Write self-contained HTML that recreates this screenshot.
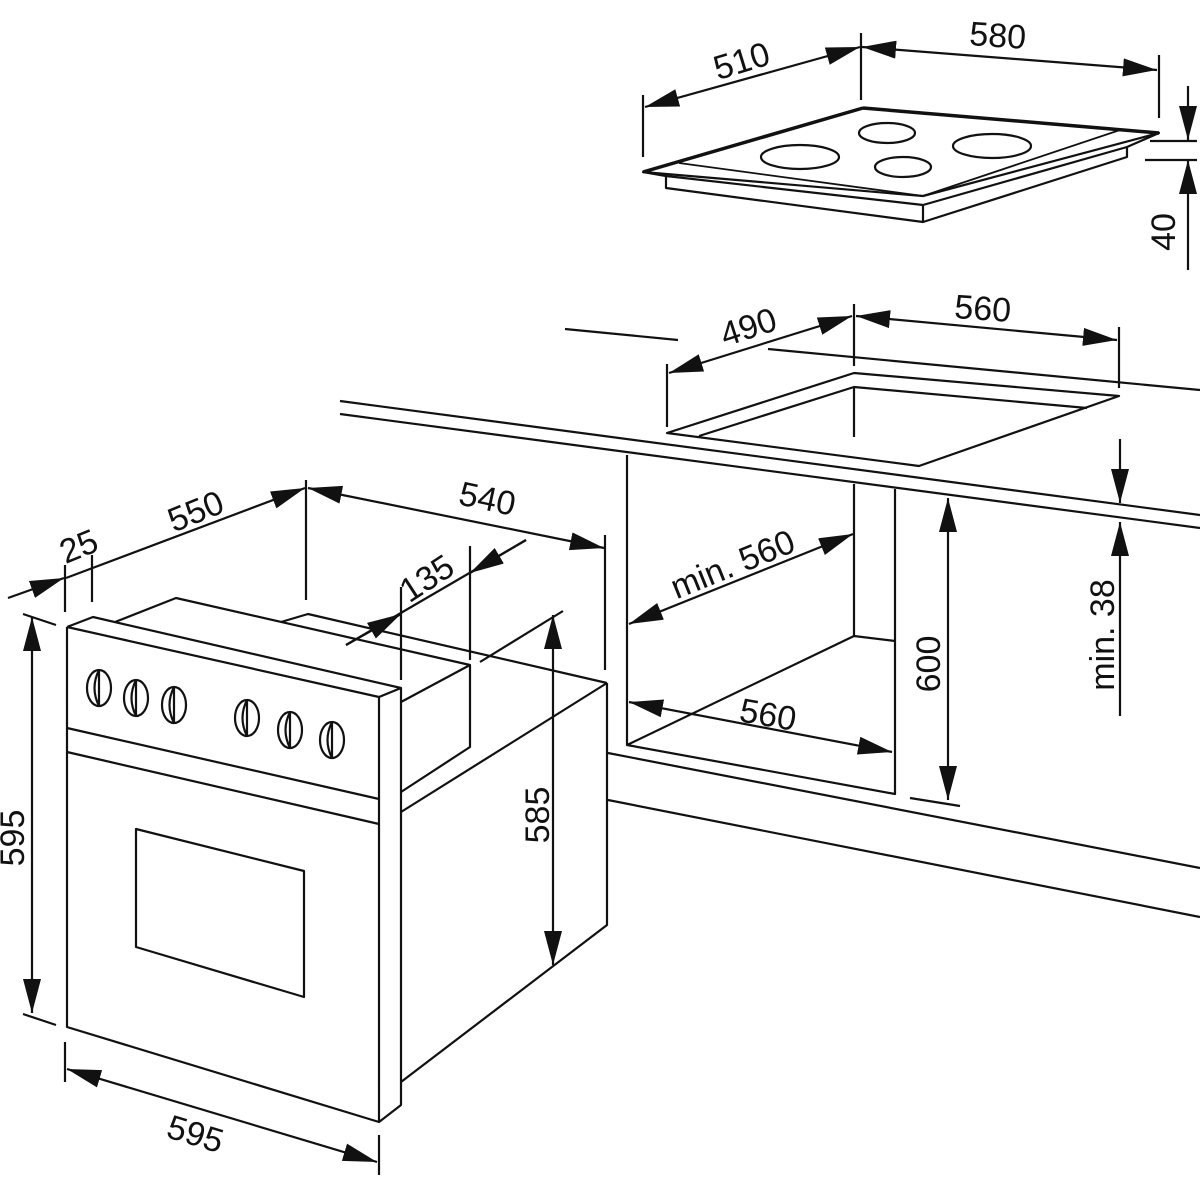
<!DOCTYPE html>
<html><head><meta charset="utf-8"><style>
html,body{margin:0;padding:0;background:#fff;}
svg{display:block}
text{font-family:"Liberation Sans",sans-serif;font-size:34px;fill:#111;}
</style></head><body>
<svg width="1200" height="1200" viewBox="0 0 1200 1200" xmlns="http://www.w3.org/2000/svg">
<defs>
<marker id="a" markerUnits="userSpaceOnUse" markerWidth="36" markerHeight="20" refX="34" refY="9" orient="auto-start-reverse">
<path d="M0,0 L34,9 L0,18 Z" fill="#111"/>
</marker>
</defs>
<g stroke="#111" stroke-width="2.2" fill="none" stroke-linejoin="round">
<!-- HOB -->
<polygon points="643,172 863,108 1159,133 923,196" fill="#fff"/>
<path d="M643,172 L666,176 L923,205 L1127,147 L1159,133"/>
<path d="M679,163 L923,196 L1120,130" stroke-width="1.8"/>
<path d="M666,176 L666,188 L923,222 L923,205 M1127,147 L1127,157 L923,222"/>
<path d="M863,108 L1159,133 M643,172 L863,108" stroke-width="3.5"/>
<ellipse cx="800" cy="157" rx="39" ry="12"/>
<ellipse cx="887" cy="133" rx="28" ry="10"/>
<ellipse cx="903" cy="167" rx="28" ry="10"/>
<ellipse cx="992" cy="146" rx="39" ry="12"/>
<!-- hob dims -->
<path d="M643,95 V157 M861,33 V100 M1159,55 V118"/>
<line x1="645" y1="107" x2="860" y2="47" marker-start="url(#a)" marker-end="url(#a)"/>
<line x1="862" y1="47" x2="1157" y2="70" marker-start="url(#a)" marker-end="url(#a)"/>
<path d="M1188,86 V140"  marker-end="url(#a)"/>
<path d="M1188,270 V160" marker-end="url(#a)"/>
<path d="M1150,141 H1197 M1145,160 H1197"/>

<!-- COUNTERTOP -->
<path d="M340,401 L1200,515 M340,414 L1200,528"/>
<path d="M768,349 L1200,390 M565,329 L678,340"/>
<polygon points="667,433 854,373 1119,396 919,466" fill="#fff"/>
<path d="M699,436 L854,387 L1087,408 M854,387 V437"/>
<!-- dims top cutout -->
<path d="M667,364 V427 M854,304 V366 M1119,327 V388"/>
<line x1="669" y1="373" x2="852" y2="316" marker-start="url(#a)" marker-end="url(#a)"/>
<line x1="856" y1="316" x2="1117" y2="340" marker-start="url(#a)" marker-end="url(#a)"/>

<!-- CABINET -->
<path d="M627,455 V745 L895,794 V489 M854,484 V636 L627,745 M854,636 L895,641"/>
<path d="M608,753 L1200,868 M608,800 L1200,917"/>
<line x1="629" y1="624" x2="853" y2="534" marker-start="url(#a)" marker-end="url(#a)"/>
<line x1="629" y1="702" x2="892" y2="752" marker-start="url(#a)" marker-end="url(#a)"/>
<line x1="948" y1="498" x2="948" y2="800" marker-start="url(#a)" marker-end="url(#a)"/>
<path d="M910,798 L960,806"/>
<path d="M1120,439 V503" marker-end="url(#a)"/>
<path d="M1120,716 V522" marker-end="url(#a)"/>

<!-- OVEN -->
<polygon points="607,683 607,925 401,1082 401,688" fill="#fff" stroke="none"/>
<path d="M607,683 V925 L401,1082"/>
<path d="M607,683 L308,614 L281,622 M401,702 L470,665 M401,792 L470,747 V665 L176,598 L115,622"/>
<path d="M401,812 L607,683"/>
<path d="M67,627 L93,617 L401,688 L379,697 L67,627 M67,627 V1027 L379,1122 V697 M401,688 V1105 L379,1122"/>
<path d="M67,728 L379,799 M67,752 L379,824"/>
<polygon points="136,829 304,871 304,997 136,947"/>
<g stroke-width="2.2">
<ellipse cx="99" cy="688" rx="12" ry="18"/><path d="M99,670 V706 Q90,688 99,670"/>
<ellipse cx="136" cy="698" rx="12" ry="18"/><path d="M136,680 V716 Q127,698 136,680"/>
<ellipse cx="174" cy="705" rx="12" ry="18"/><path d="M174,687 V723 Q165,705 174,687"/>
<ellipse cx="247" cy="718" rx="12" ry="18"/><path d="M247,700 V736 Q238,718 247,700"/>
<ellipse cx="290" cy="730" rx="12" ry="18"/><path d="M290,712 V748 Q281,730 290,712"/>
<ellipse cx="332" cy="740" rx="12" ry="18"/><path d="M332,722 V758 Q323,740 332,722"/>
</g>
<!-- oven dims -->
<path d="M8,598 L64,578" marker-end="url(#a)"/>
<line x1="66" y1="578" x2="305" y2="488" marker-end="url(#a)"/>
<path d="M65,565 V612 M92,555 V602 M306,480 V600 M605,535 V670"/>
<line x1="308" y1="488" x2="604" y2="548" marker-start="url(#a)" marker-end="url(#a)"/>
<path d="M346,645 L526,540"/>
<path d="M346,645 L401,614" marker-end="url(#a)"/>
<path d="M526,540 L470,573" marker-end="url(#a)"/>
<path d="M401,587 V680 M470,546 V660"/>
<path d="M480,662 L563,611"/>
<line x1="553" y1="615" x2="553" y2="965" marker-start="url(#a)" marker-end="url(#a)"/>
<line x1="32" y1="617" x2="32" y2="1013" marker-start="url(#a)" marker-end="url(#a)"/>
<path d="M23,614 L56,625 M23,1014 L56,1025"/>
<path d="M65,1042 V1082 M379,1135 V1175"/>
<line x1="67" y1="1069" x2="377" y2="1162" marker-start="url(#a)" marker-end="url(#a)"/>
</g>
<!-- LABELS -->
<text transform="translate(745,72) rotate(-17)" text-anchor="middle">510</text>
<text transform="translate(997,47) rotate(4)" text-anchor="middle">580</text>
<text transform="translate(1175,232) rotate(-90)" text-anchor="middle">40</text>
<text transform="translate(752,338) rotate(-18)" text-anchor="middle">490</text>
<text transform="translate(982,320) rotate(4)" text-anchor="middle">560</text>
<text transform="translate(737,575) rotate(-22)" text-anchor="middle">min. 560</text>
<text transform="translate(766,726) rotate(10)" text-anchor="middle">560</text>
<text transform="translate(940,664) rotate(-90)" text-anchor="middle">600</text>
<text transform="translate(1114,635) rotate(-90)" text-anchor="middle">min. 38</text>
<text transform="translate(83,557) rotate(-22)" text-anchor="middle">25</text>
<text transform="translate(200,522) rotate(-22)" text-anchor="middle">550</text>
<text transform="translate(485,510) rotate(12)" text-anchor="middle">540</text>
<text transform="translate(433,588) rotate(-33)" text-anchor="middle">135</text>
<text transform="translate(549,815) rotate(-90)" text-anchor="middle">585</text>
<text transform="translate(24,838) rotate(-90)" text-anchor="middle">595</text>
<text transform="translate(192,1145) rotate(17)" text-anchor="middle">595</text>
</svg>
</body></html>
